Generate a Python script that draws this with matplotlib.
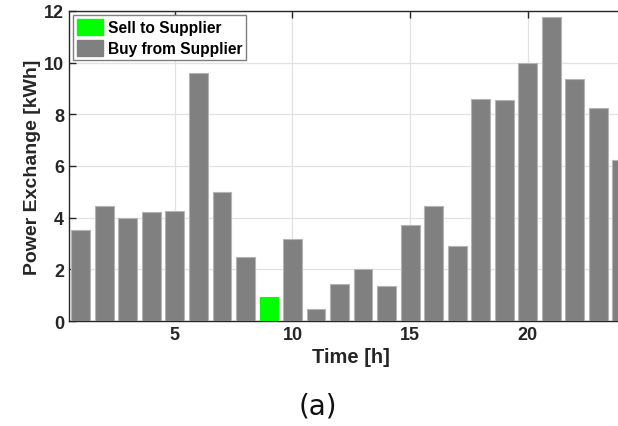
import numpy as np
import matplotlib.pyplot as plt
from matplotlib.patches import Patch

# hourly exchange with the supplier [kWh]
hours = list(range(1, 25))
energy = [3.52, 4.44, 3.97, 4.23, 4.24, 9.60, 4.99, 2.46, 0.93, 3.17, 0.46, 1.42,
          2.01, 1.34, 3.71, 4.44, 2.91, 8.61, 8.54, 9.98, 11.77, 9.35, 8.23, 6.23]
sell_hours = [9]

sell_color = '#00ff00'
buy_color = '#808080'

colors = [sell_color if h in sell_hours else buy_color for h in hours]
edges = [sell_color if h in sell_hours else '#b4b4b4' for h in hours]

fig = plt.figure(figsize=(6.18, 4.27), dpi=100)
ax = fig.add_axes([0.1117, 0.2459, 0.9135, 0.726])

ax.bar(hours, energy, width=0.8, color=colors, edgecolor=edges, linewidth=0.8, zorder=3)

ax.set_xlim(0.5, 24.5)
ax.set_ylim(0, 12)
ax.set_xticks([5, 10, 15, 20])
ax.set_yticks(np.arange(0, 13, 2))
ax.grid(True, color='#e2e2e2', linewidth=0.9, zorder=0)
ax.tick_params(direction='in', top=True, right=True, length=5, width=1,
               labelsize=13, colors='#262626')
for lab in ax.get_xticklabels() + ax.get_yticklabels():
    lab.set_fontweight('bold')
    lab.set_family('Liberation Sans')
for sp in ax.spines.values():
    sp.set_color('#262626')
    sp.set_linewidth(1)

ax.set_xlabel('Time [h]', fontsize=14.5, fontweight='bold', family='Liberation Sans',
              color='#262626', labelpad=3)
ax.set_ylabel('Power Exchange [kWh]', fontsize=14, fontweight='bold',
              family='Liberation Sans', color='#262626', labelpad=2)

handles = [Patch(facecolor=sell_color, edgecolor=sell_color),
           Patch(facecolor=buy_color, edgecolor=buy_color)]
leg = ax.legend(handles, ['Sell to Supplier', 'Buy from Supplier'], loc='upper left',
                bbox_to_anchor=(0.0, 1.0), fancybox=False, framealpha=1,
                edgecolor='#7f7f7f', borderpad=0.25, handlelength=1.7, handleheight=1.2,
                handletextpad=0.3, labelspacing=0.3, borderaxespad=0.25,
                prop={'family': 'Liberation Sans', 'weight': 'bold', 'size': 11.2})
leg.get_frame().set_linewidth(1)
leg.set_zorder(5)

fig.text(0.515, 0.047, '(a)', fontsize=20, ha='center', va='center',
         family='DejaVu Sans', color='#111111')

fig.savefig('out.png', dpi=100)
